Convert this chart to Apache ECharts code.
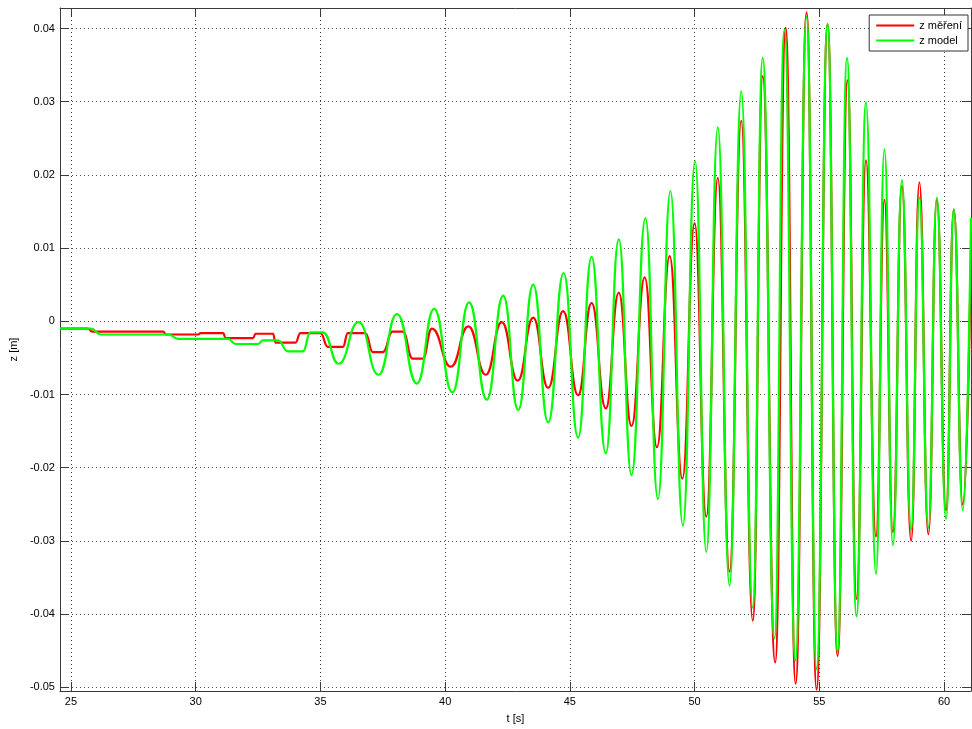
<!DOCTYPE html>
<html><head><meta charset="utf-8">
<script src="https://cdn.jsdelivr.net/npm/echarts@6/dist/echarts.min.js"></script>
<style>html,body{margin:0;padding:0;background:#fff}#chart{width:972px;height:729px}</style>
</head><body><div id="chart"></div>
<script>
// tick labels
const xTicks = [25, 30, 35, 40, 45, 50, 55, 60];
const yTicks = [-0.05, -0.04, -0.03, -0.02, -0.01, 0, 0.01, 0.02, 0.03, 0.04];
const seriesNames = ['z měření', 'z model'];

// measured z (time [s], z [m])
const tMeas = [24.56, 25.68, 25.85, 28.7, 28.8, 30.1, 30.2, 31.1, 31.2, 32.3, 32.4, 33.1, 33.2, 34.0, 34.2, 35.0,
  35.3, 35.9, 36.1, 36.8, 37.1, 37.5, 37.9, 38.3, 38.7, 39.1, 39.47, 40.23, 40.93, 41.63, 42.27, 42.91,
  43.53, 44.13, 44.73, 45.33, 45.87, 46.44, 46.96, 47.47, 48.0, 48.49, 49.0, 49.51, 50.0, 50.47,
  50.93, 51.4, 51.87, 52.33, 52.73, 53.23, 53.65, 54.05, 54.49, 54.89, 55.33, 55.73, 56.13, 56.49,
  56.87, 57.27, 57.61, 57.95, 58.31, 58.68, 59.01, 59.37, 59.71, 60.08, 60.39, 60.75, 61.08];
const zMeas = [-0.0010, -0.0010, -0.0014, -0.0014, -0.0018, -0.0018, -0.0016, -0.0016, -0.0023, -0.0023, -0.0017, -0.0017, -0.0029, -0.0029, -0.0016, -0.0016,
  -0.0035, -0.0035, -0.0016, -0.0016, -0.0042, -0.0042, -0.0014, -0.0014, -0.0051, -0.0051, -0.0010, -0.0062, -0.0007, -0.0073, -0.0001, -0.0081,
  0.0005, -0.0091, 0.0014, -0.0101, 0.0025, -0.0119, 0.0039, -0.0143, 0.0060, -0.0172, 0.0089, -0.0215, 0.0134, -0.0267,
  0.0196, -0.0342, 0.0274, -0.0409, 0.0335, -0.0466, 0.0401, -0.0495, 0.0422, -0.0503, 0.0406, -0.0457, 0.0329, -0.0379,
  0.0220, -0.0294, 0.0166, -0.0288, 0.0185, -0.0300, 0.0190, -0.0291, 0.0166, -0.0258, 0.0153, -0.0250, 0.0096];

// model z (time [s], z [m])
const tModel = [24.56, 25.8, 26.2, 28.9, 29.3, 31.3, 31.6, 32.5, 32.7, 33.3, 33.7, 34.3, 34.6, 35.1,
  35.73, 36.53, 37.33, 38.07, 38.87, 39.56, 40.29, 40.96, 41.67, 42.33, 42.93, 43.53, 44.13, 44.75,
  45.33, 45.87, 46.44, 46.96, 47.47, 48.03, 48.53, 49.03, 49.53, 50.02, 50.47, 50.93, 51.4, 51.87,
  52.33, 52.73, 53.2, 53.6, 54.04, 54.49, 54.89, 55.33, 55.73, 56.11, 56.49, 56.87, 57.27, 57.61,
  57.95, 58.31, 58.68, 59.01, 59.37, 59.71, 60.08, 60.39, 60.75, 61.08];
const zModel = [-0.0010, -0.0010, -0.0018, -0.0018, -0.0024, -0.0024, -0.0031, -0.0031, -0.0026, -0.0026, -0.0041, -0.0041, -0.0015, -0.0015,
  -0.0058, -0.0001, -0.0073, 0.0010, -0.0085, 0.0017, -0.0097, 0.0026, -0.0107, 0.0035, -0.0121, 0.0050, -0.0138, 0.0066,
  -0.0159, 0.0088, -0.0180, 0.0112, -0.0210, 0.0141, -0.0243, 0.0178, -0.0279, 0.0219, -0.0315, 0.0265, -0.0361, 0.0314,
  -0.0391, 0.0360, -0.0433, 0.0398, -0.0463, 0.0416, -0.0475, 0.0406, -0.0451, 0.0360, -0.0403, 0.0299, -0.0345, 0.0235,
  -0.0306, 0.0193, -0.0285, 0.0169, -0.0282, 0.0169, -0.0270, 0.0153, -0.0258, 0.0141];

const FONT = '"Liberation Sans", Arial, Helvetica, sans-serif';
const AX = '#3a3a3a';
const xMin = 24.56, xMax = 61.08, yMin = -0.0505, yMax = 0.0428;

const chart = echarts.init(document.getElementById('chart'), null, {renderer: 'canvas'});
const fmtY = v => { const r = Math.round(v * 100) / 100; return r === 0 ? '0' : String(r); };

chart.setOption({
  animation: false,
  backgroundColor: '#fff',
  grid: {left: 59, right: 1, top: 8, bottom: 36, containLabel: false},
  legend: {
    data: seriesNames, orient: 'vertical', right: 4, top: 15,
    itemWidth: 38, itemHeight: 2, icon: 'rect', itemGap: 4,
    padding: [5, 6, 5, 7], backgroundColor: '#fff', borderColor: '#333', borderWidth: 1, borderRadius: 0,
    textStyle: {fontFamily: FONT, fontSize: 11, color: '#000'}
  },
  xAxis: [{
    type: 'value', min: xMin, max: xMax, position: 'bottom',
    name: 't [s]', nameLocation: 'middle', nameGap: 22,
    nameTextStyle: {fontFamily: FONT, fontSize: 11, color: '#000'},
    axisLine: {show: true, onZero: false, lineStyle: {color: AX, width: 1}},
    axisTick: {show: true, inside: true, length: 9, customValues: xTicks, lineStyle: {color: AX}},
    axisLabel: {customValues: xTicks, margin: 5, fontFamily: FONT, fontSize: 11, color: '#000'},
    splitLine: {show: true, lineStyle: {color: '#444', width: 1, type: [1, 3]}}
  }, {
    type: 'value', min: xMin, max: xMax, position: 'top',
    axisLine: {show: true, onZero: false, lineStyle: {color: AX, width: 1}},
    axisTick: {show: true, inside: true, length: 9, customValues: xTicks, lineStyle: {color: AX}},
    axisLabel: {show: false}, splitLine: {show: false}
  }],
  yAxis: [{
    type: 'value', min: yMin, max: yMax, position: 'left',
    name: 'z [m]', nameLocation: 'middle', nameGap: 36,
    nameTextStyle: {fontFamily: FONT, fontSize: 11, color: '#000'},
    axisLine: {show: true, onZero: false, lineStyle: {color: AX, width: 1}},
    axisTick: {show: true, inside: true, length: 9, customValues: yTicks, lineStyle: {color: AX}},
    axisLabel: {customValues: yTicks, margin: 5, fontFamily: FONT, fontSize: 11, color: '#000', formatter: fmtY},
    splitLine: {show: true, lineStyle: {color: '#444', width: 1, type: [1, 3]}}
  }, {
    type: 'value', min: yMin, max: yMax, position: 'right',
    axisLine: {show: true, onZero: false, lineStyle: {color: AX, width: 1}},
    axisTick: {show: true, inside: true, length: 9, customValues: yTicks, lineStyle: {color: AX}},
    axisLabel: {show: false}, splitLine: {show: false}
  }],
  series: [{
    name: seriesNames[0], type: 'line', xAxisIndex: 0, yAxisIndex: 0,
    data: tMeas.map((t, i) => [t, zMeas[i]]),
    showSymbol: false, symbol: 'none', smooth: 0.5, smoothMonotone: 'x',
    lineStyle: {color: '#ff0000', width: 2.2}, itemStyle: {color: '#ff0000'}
  }, {
    name: seriesNames[1], type: 'line', xAxisIndex: 0, yAxisIndex: 0,
    data: tModel.map((t, i) => [t, zModel[i]]),
    showSymbol: false, symbol: 'none', smooth: 0.5, smoothMonotone: 'x',
    lineStyle: {color: '#00ff00', width: 2.2}, itemStyle: {color: '#00ff00'}
  }]
});
</script>
</body></html>
